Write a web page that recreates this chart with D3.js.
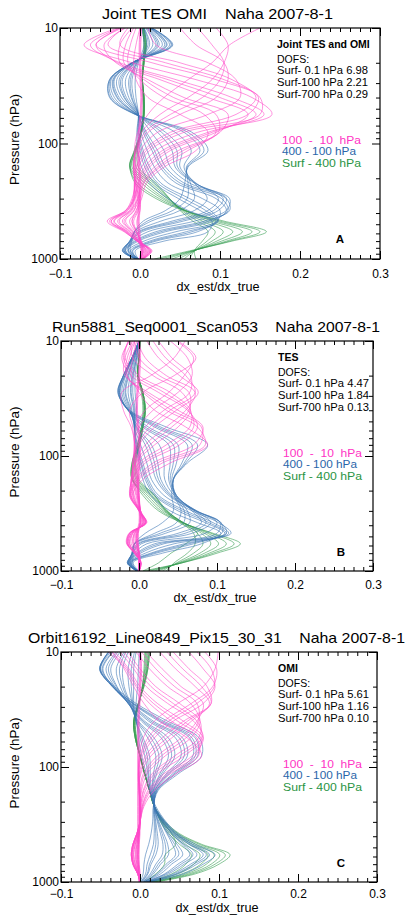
<!DOCTYPE html>
<html>
<head>
<meta charset="utf-8">
<script src="https://cdn.jsdelivr.net/npm/d3@7"></script>
<style>
  body { margin: 0; background: #fff; }
  svg text { font-family: "Liberation Sans", Arial, sans-serif; white-space: pre; }
</style>
</head>
<body>
<svg id="viz"></svg>
<script>
var width = 408;
var height = 915;

// pressure levels (hPa) where every curve is sampled, surface to top
var levels = [1000, 850, 700, 580, 470, 380, 300, 220, 160, 115, 80, 56, 40, 28, 20, 14, 10];

// curve values, units of 0.001 dx_est/dx_true, one row per curve (same order as levels)

// Panel A - Joint TES OMI
var greenA = [
  [18, 62, 115, 158, 105, 55, 20, -6, -12, -5, 2, 5, 5, 3, 5, 8, 5],
  [25, 65, 112, 150, 100, 56, 24, -3, -13, -6, 2, 5, 5, 3, 5, 8, 5],
  [32, 66, 108, 140, 95, 57, 28, 2, -13, -7, 1, 5, 5, 3, 5, 7, 4],
  [40, 67, 102, 128, 90, 57, 31, 6, -12, -7, 1, 5, 5, 3, 5, 7, 4],
  [48, 68, 96, 116, 84, 56, 34, 10, -10, -6, 1, 5, 5, 3, 4, 6, 4],
  [55, 68, 90, 104, 78, 54, 36, 14, -8, -5, 1, 4, 4, 3, 4, 6, 3],
  [62, 68, 84, 94, 72, 52, 37, 17, -5, -4, 1, 4, 4, 3, 4, 5, 3],
  [70, 68, 78, 85, 66, 50, 37, 20, -2, -3, 1, 4, 4, 3, 4, 5, 3]
];
var blueA = [
  [-2, -6, 30, 85, 90, 60, 35, 12, 2, -3, -4, -2, -5, -6, -2, 5, 2],
  [-3, -9, 20, 72, 95, 75, 48, 18, 6, 0, -3, -2, -8, -10, -3, 8, 4],
  [-3, -10, 16, 65, 97, 82, 55, 22, 9, 2, -2, -2, -10, -12, -4, 10, 5],
  [-4, -12, 12, 58, 98, 88, 62, 26, 12, 4, -1, -2, -11, -14, -4, 12, 5],
  [-4, -15, 5, 45, 96, 100, 78, 35, 18, 9, 1, -2, -14, -18, -5, 16, 7],
  [-5, -18, -2, 32, 90, 108, 95, 45, 25, 15, 4, -2, -17, -22, -6, 20, 8],
  [-5, -19, -5, 26, 85, 110, 102, 50, 28, 18, 6, -3, -19, -24, -7, 22, 9],
  [-5, -20, -7, 20, 80, 112, 108, 55, 32, 22, 8, -3, -20, -26, -7, 24, 10],
  [-5, -22, -10, 10, 68, 108, 112, 62, 38, 30, 14, -3, -23, -29, -8, 28, 11],
  [-4, -22, -12, 3, 54, 98, 108, 68, 44, 40, 22, -4, -26, -32, -9, 31, 12],
  [-4, -21, -12, 0, 47, 92, 104, 69, 47, 46, 27, -4, -28, -33, -9, 33, 13],
  [-4, -20, -13, -2, 40, 85, 98, 70, 50, 52, 32, -4, -29, -34, -9, 34, 13],
  [-3, -18, -13, -5, 26, 68, 84, 68, 55, 64, 44, -5, -32, -36, -10, 37, 14],
  [-2, -15, -12, -7, 14, 50, 68, 63, 58, 75, 55, -5, -35, -37, -10, 39, 15],
  [-2, -14, -11, -7, 9, 41, 59, 60, 59, 80, 60, -6, -37, -38, -10, 40, 15],
  [-1, -12, -10, -7, 4, 32, 50, 56, 60, 85, 65, -6, -38, -38, -10, 41, 15]
];
var pinkA = [
  [0, 4, 0, -4, -10, -5, 2, 8, 30, 70, 85, 50, 10, -5, -8, -5, 0],
  [0, 6, -2, -8, -18, -8, 0, 5, 25, 60, 95, 80, 30, 0, -15, -12, -5],
  [1, 8, -3, -10, -22, -10, -2, 4, 22, 54, 98, 95, 42, 5, -20, -18, -8],
  [2, 9, -3, -12, -26, -12, -3, 2, 18, 48, 100, 110, 55, 10, -25, -25, -10],
  [3, 12, -4, -16, -33, -16, -6, 0, 12, 38, 95, 135, 85, 25, -30, -45, -18],
  [3, 13, -4, -18, -36, -17, -7, -2, 9, 33, 90, 145, 100, 35, -28, -55, -22],
  [4, 14, -4, -19, -38, -18, -8, -3, 6, 28, 85, 155, 115, 45, -25, -62, -25],
  [4, 15, -3, -20, -41, -18, -10, -5, 2, 20, 72, 165, 140, 70, -10, -70, -28],
  [3, 13, -2, -17, -36, -15, -9, -6, -2, 12, 55, 150, 150, 95, 15, -55, -25],
  [2, 11, -1, -15, -32, -13, -8, -7, -4, 8, 46, 135, 148, 105, 32, -40, -20],
  [2, 10, 0, -13, -28, -11, -7, -7, -5, 5, 38, 120, 145, 115, 50, -25, -15],
  [1, 7, 1, -9, -20, -7, -5, -7, -7, 0, 22, 85, 125, 120, 85, 20, 10],
  [0, 5, 2, -6, -13, -4, -3, -6, -8, -4, 10, 50, 95, 110, 105, 70, 50],
  [0, 4, 1, -5, -10, -3, -2, -5, -8, -5, 6, 38, 78, 100, 105, 90, 72],
  [0, 3, 1, -4, -8, -2, -1, -4, -8, -6, 2, 25, 60, 90, 105, 110, 95],
  [0, 2, 0, -2, -4, 0, 0, -2, -6, -7, -3, 10, 30, 60, 90, 112, 150],
  [0, 2, 0, -1, -2, -1, 0, 0, -1, -2, -1, 1, 2, 1, 0, 0, 1],
  [-1, 1, -1, -2, -3, -2, -1, -1, -2, -3, -2, 0, 1, 0, -1, -1, 0],
  [1, 3, 1, 0, -1, 0, 1, 1, 0, -1, 0, 2, 3, 2, 1, 1, 2]
];

// Panel B - TES
var greenB = [
  [5, 55, 100, 130, 95, 55, 25, 5, -8, -8, -2, 3, 5, 3, -2, 0, 2],
  [10, 55, 95, 122, 92, 56, 28, 8, -9, -9, -2, 3, 6, 4, -2, 0, 2],
  [15, 54, 90, 112, 88, 57, 31, 11, -9, -9, -1, 4, 7, 4, -2, 0, 2],
  [20, 52, 84, 102, 84, 57, 33, 14, -8, -8, -1, 4, 7, 5, -1, 0, 2],
  [25, 50, 78, 92, 80, 57, 35, 16, -6, -7, 0, 5, 8, 5, -1, 0, 2],
  [30, 48, 70, 82, 75, 56, 36, 18, -4, -6, 0, 5, 8, 5, -1, 0, 1],
  [35, 45, 62, 72, 70, 54, 36, 20, -2, -5, 1, 5, 8, 5, -1, 0, 1],
  [5, 25, 41, 60, 75, 52, 34, 20, 0, -4, 1, 5, 8, 5, -1, 0, 1]
];
var blueB = [
  [-2, -8, 30, 80, 105, 75, 40, 15, 5, 0, -5, -5, -3, -5, -5, -2, 0],
  [-2, -10, 22, 70, 110, 85, 50, 20, 8, 2, -4, -6, -5, -8, -7, -3, 0],
  [-2, -11, 18, 64, 112, 90, 55, 22, 10, 3, -3, -6, -6, -10, -8, -3, 0],
  [-3, -12, 15, 58, 115, 95, 60, 25, 12, 5, -2, -6, -7, -11, -9, -4, 0],
  [-3, -13, 8, 45, 118, 102, 68, 32, 16, 10, 2, -6, -9, -14, -11, -5, 0],
  [-3, -14, 2, 32, 112, 105, 72, 38, 22, 16, 8, -5, -10, -17, -13, -6, 0],
  [-3, -14, -1, 26, 106, 105, 73, 40, 25, 20, 12, -4, -11, -18, -14, -6, 0],
  [-3, -15, -3, 20, 100, 104, 74, 42, 28, 24, 16, -3, -12, -20, -15, -7, 0],
  [-3, -15, -6, 10, 85, 100, 74, 45, 33, 32, 26, 0, -13, -22, -17, -8, 0],
  [-2, -14, -8, 3, 68, 92, 72, 47, 38, 40, 38, 5, -14, -24, -18, -8, 0],
  [-2, -14, -8, 0, 59, 86, 70, 48, 40, 44, 44, 8, -14, -25, -18, -8, 0],
  [-2, -13, -9, -2, 50, 80, 68, 48, 42, 48, 50, 12, -14, -25, -19, -9, 0],
  [-1, -12, -9, -5, 34, 65, 62, 47, 44, 55, 62, 20, -14, -26, -20, -9, 0],
  [-1, -11, -9, -6, 27, 57, 58, 46, 44, 58, 68, 24, -14, -26, -20, -9, 0],
  [-1, -10, -8, -6, 20, 48, 54, 45, 44, 60, 75, 28, -13, -27, -20, -9, 0],
  [0, -8, -7, -6, 8, 30, 44, 42, 44, 62, 88, 35, -12, -27, -20, -9, 0]
];
var pinkB = [
  [0, 2, -5, -12, -8, 6, 2, -8, 5, 40, 88, 60, 20, 0, -10, -8, -3],
  [0, 2, -6, -14, -10, 8, 2, -10, 0, 30, 85, 75, 35, 5, -15, -12, -5],
  [0, 2, -6, -14, -11, 8, 1, -11, -2, 24, 78, 80, 42, 8, -16, -15, -6],
  [0, 3, -6, -15, -12, 9, 1, -12, -4, 18, 70, 82, 50, 12, -18, -18, -8],
  [0, 3, -5, -16, -13, 10, 0, -12, -8, 8, 52, 75, 62, 25, -10, -22, -12],
  [0, 2, -4, -15, -12, 9, 0, -11, -9, 4, 44, 70, 64, 32, -5, -20, -13],
  [0, 2, -4, -15, -12, 9, 0, -10, -10, 0, 35, 65, 66, 40, 0, -18, -14],
  [0, 2, -3, -13, -10, 8, 0, -8, -10, -4, 20, 50, 66, 55, 18, -8, -10],
  [0, 1, -3, -12, -9, 7, 0, -7, -10, -5, 14, 42, 64, 64, 26, 0, -6],
  [0, 1, -2, -10, -8, 6, 1, -6, -9, -6, 8, 35, 60, 72, 35, 8, -2],
  [0, 1, -1, -8, -6, 5, 1, -4, -8, -8, 0, 20, 48, 76, 52, 25, 10],
  [0, 1, 0, -7, -6, 5, 2, -3, -7, -8, -2, 14, 40, 72, 60, 34, 18],
  [0, 0, 0, -6, -5, 4, 2, -2, -6, -8, -4, 8, 32, 65, 66, 42, 25],
  [0, 0, 0, -4, -4, 3, 2, -1, -4, -6, -6, 0, 18, 50, 68, 62, 40],
  [0, 0, 0, -3, -3, 2, 1, 0, -3, -5, -6, -4, 8, 38, 58, 70, 48],
  [0, 0, 0, -2, -2, 2, 1, 0, -2, -4, -6, -8, -12, 5, 45, 73, 50],
  [0, 0, 0, -1, -1, 1, 1, 0, -1, -2, -5, -10, -20, -22, 15, 45, 59],
  [0, 1, 0, -2, -2, 1, 1, -1, -1, 0, 1, -1, -3, -2, 0, 1, 0],
  [-1, 0, -1, -3, -3, 0, 0, -2, -2, -1, 0, -2, -4, -3, -1, 0, -1],
  [1, 2, 1, -1, -1, 2, 2, 0, 0, 1, 2, 0, -2, -1, 1, 2, 1]
];

// Panel C - OMI
var greenC = [
  [20, 70, 100, 114, 78, 50, 32, 18, 12, 6, 0, -6, -8, -2, 5, 10, 12],
  [18, 66, 95, 108, 75, 48, 31, 18, 12, 6, 0, -6, -8, -2, 5, 10, 12],
  [16, 62, 90, 101, 71, 46, 30, 18, 12, 6, 0, -6, -8, -2, 4, 9, 11],
  [14, 58, 84, 94, 67, 44, 29, 18, 12, 6, 0, -6, -8, -2, 4, 9, 10],
  [12, 53, 77, 86, 62, 42, 28, 18, 12, 6, 0, -5, -7, -2, 4, 8, 9],
  [10, 47, 68, 76, 56, 39, 27, 18, 12, 6, 0, -5, -7, -1, 3, 7, 8],
  [8, 40, 58, 65, 50, 36, 26, 18, 12, 6, 0, -5, -6, -1, 3, 6, 7],
  [5, 20, 31, 32, 45, 40, 28, 18, 12, 6, 0, -4, -6, -1, 3, 5, 6]
];
var blueC = [
  [12, 55, 80, 95, 70, 48, 33, 20, 12, 8, 2, -2, -4, -5, -3, -2, -1],
  [10, 48, 72, 88, 66, 46, 32, 19, 13, 10, 6, 0, -5, -8, -8, -8, -5],
  [9, 45, 68, 84, 64, 45, 31, 18, 13, 11, 9, 2, -5, -9, -11, -11, -7],
  [9, 42, 64, 80, 62, 44, 31, 18, 14, 13, 12, 4, -5, -10, -14, -15, -10],
  [8, 36, 56, 72, 58, 42, 30, 18, 15, 17, 20, 10, -4, -12, -20, -22, -15],
  [7, 33, 52, 67, 55, 41, 29, 18, 15, 19, 24, 14, -3, -13, -22, -26, -18],
  [7, 31, 48, 63, 53, 40, 29, 18, 16, 21, 28, 18, -2, -14, -25, -30, -20],
  [6, 26, 40, 54, 47, 37, 28, 18, 17, 25, 36, 27, 2, -15, -29, -37, -25],
  [5, 23, 36, 49, 44, 35, 27, 18, 17, 27, 40, 31, 4, -15, -30, -40, -28],
  [5, 21, 33, 45, 41, 34, 26, 18, 18, 29, 44, 36, 6, -15, -32, -43, -30],
  [4, 17, 26, 36, 35, 30, 24, 18, 19, 33, 52, 45, 11, -14, -34, -47, -34],
  [3, 15, 23, 32, 32, 28, 23, 18, 19, 35, 56, 50, 14, -13, -34, -48, -35],
  [3, 13, 20, 28, 29, 26, 22, 18, 20, 37, 60, 54, 17, -12, -35, -50, -37],
  [2, 10, 14, 20, 23, 22, 20, 18, 21, 41, 67, 63, 24, -10, -35, -51, -39],
  [1, 9, 12, 17, 20, 20, 19, 18, 21, 43, 70, 66, 27, -9, -34, -51, -39],
  [1, 7, 9, 13, 17, 18, 18, 17, 22, 45, 73, 70, 30, -8, -34, -51, -40],
  [0, 4, 5, 7, 11, 14, 16, 17, 23, 48, 78, 75, 35, -5, -32, -50, -40]
];
var pinkC = [
  [0, -3, -8, -10, -8, -4, 0, 5, 18, 45, 78, 60, 25, 5, -8, -20, -35],
  [0, -3, -9, -11, -9, -4, 0, 4, 14, 38, 74, 72, 40, 12, -5, -18, -40],
  [0, -3, -9, -11, -9, -4, 0, 3, 12, 34, 70, 77, 48, 17, -3, -16, -36],
  [0, -3, -9, -11, -9, -4, 0, 3, 10, 30, 66, 80, 55, 22, 0, -14, -32],
  [0, -3, -9, -11, -9, -4, 0, 2, 7, 22, 56, 80, 68, 35, 8, -8, -25],
  [0, -2, -8, -10, -8, -3, 0, 1, 5, 18, 50, 78, 72, 42, 14, -4, -20],
  [0, -2, -8, -10, -8, -3, 0, 1, 4, 15, 44, 74, 76, 50, 20, 0, -15],
  [0, -2, -7, -9, -7, -3, 0, 0, 2, 9, 32, 64, 76, 64, 35, 12, -5],
  [0, -2, -6, -8, -6, -2, 0, 0, 1, 6, 27, 58, 74, 72, 44, 20, 2],
  [0, -2, -6, -8, -6, -2, 0, 0, 0, 4, 22, 52, 72, 80, 52, 28, 8],
  [0, -2, -5, -6, -5, -2, 0, 0, -1, 1, 14, 40, 65, 88, 70, 45, 25],
  [0, -1, -4, -5, -4, -1, 0, 0, -1, 0, 10, 34, 60, 90, 78, 54, 34],
  [0, -1, -4, -5, -4, -1, 0, 0, -1, -1, 7, 28, 55, 90, 85, 62, 42],
  [0, -1, -3, -4, -3, -1, 0, 0, -1, -2, 3, 18, 42, 80, 95, 80, 62],
  [0, -1, -2, -3, -2, -1, 0, 0, -1, -2, 1, 14, 36, 72, 94, 90, 72],
  [0, -1, -2, -3, -2, -1, 0, 0, 0, -2, 0, 10, 30, 65, 92, 97, 82],
  [0, 0, -1, -2, -1, 0, 0, 0, 0, -1, -1, 4, 18, 48, 80, 95, 99],
  [-1, -1, -2, -2, -2, -2, -2, -2, -2, -2, -2, -2, -2, -1, 0, 1, 0],
  [-2, -2, -3, -3, -3, -3, -3, -3, -3, -3, -3, -3, -3, -2, -1, 0, -1],
  [0, 0, -1, -1, -1, -1, -1, -1, -1, -1, -1, -1, -1, 0, 1, 2, 1]
];

// texts
var titles = ["Joint TES OMI    Naha 2007-8-1",
              "Run5881_Seq0001_Scan053    Naha 2007-8-1",
              "Orbit16192_Line0849_Pix15_30_31    Naha 2007-8-1"];
var boxNames = ["Joint TES and OMI", "TES", "OMI"];
var dofsRanges = ["Surf- 0.1 hPa", "Surf-100 hPa", "Surf-700 hPa"];
var dofsA = [6.98, 2.21, 0.29];
var dofsB = [4.47, 1.84, 0.13];
var dofsC = [5.61, 1.16, 0.10];
var letters = ["A", "B", "C"];
var legendLabels = ["100  -  10  hPa", "400 - 100 hPa", "Surf - 400 hPa"];
var legendWidths = [79, 74, 79];
var xTicks = [-0.1, 0.0, 0.1, 0.2, 0.3];
var yTicks = [10, 100, 1000];

// drawing order green, blue, pink
var panelCurves = [[greenA, blueA, pinkA], [greenB, blueB, pinkB], [greenC, blueC, pinkC]];
var panelDofs = [dofsA, dofsB, dofsC];
var lineColors = ["#339c4e", "#3a74b4", "#ff48c9"];
var textColors = ["#ff33c4", "#2a66aa", "#2a9444"]; // legend order pink, blue, green

// plot frames, title extents, x-label baseline
var frames = [
  {left: 60, right: 380, top: 28, bottom: 259, titleX: 217.5, titleW: 231, xLabelY: 291, pad: 10},
  {left: 61, right: 373, top: 341, bottom: 571, titleX: 216, titleW: 328, xLabelY: 602, pad: 9},
  {left: 61, right: 377, top: 652, bottom: 882, titleX: 216.5, titleW: 377, xLabelY: 911.5, pad: 7.5}
];

var svg = d3.select("#viz")
  .attr("width", width)
  .attr("height", height);

svg.append("rect")
  .attr("width", width)
  .attr("height", height)
  .attr("fill", "#fff");

var fontFamily = '"Liberation Sans", Arial, sans-serif';

function drawPanel(p) {
  var f = frames[p];
  var g = svg.append("g");

  var x = d3.scaleLinear().domain([-0.1, 0.3]).range([f.left, f.right]);
  var y = d3.scaleLog().domain([1000, 10]).range([f.bottom, f.top]);

  g.append("clipPath")
    .attr("id", "clip" + p)
    .append("rect")
    .attr("x", f.left)
    .attr("y", f.top)
    .attr("width", f.right - f.left)
    .attr("height", f.bottom - f.top);

  var line = d3.line()
    .x(function(d) { return x(d / 1000); })
    .y(function(d, i) { return y(levels[i]); })
    .curve(d3.curveCatmullRom.alpha(0.5));

  // curves
  var curves = g.append("g").attr("clip-path", "url(#clip" + p + ")");
  panelCurves[p].forEach(function(group, gi) {
    curves.append("g")
      .selectAll("path")
      .data(group)
      .enter().append("path")
      .attr("d", line)
      .attr("fill", "none")
      .attr("stroke", lineColors[gi])
      .attr("stroke-width", 0.65)
      .attr("stroke-opacity", 0.9);
  });

  // x axes (ticks inside)
  var minorX = d3.range(-8, 25).filter(function(i) { return i % 8 !== 0; })
    .map(function(i) { return i * 0.0125; });
  var minorY = [20, 30, 40, 50, 60, 70, 80, 90, 200, 300, 400, 500, 600, 700, 800, 900];

  var xBottom = g.append("g")
    .attr("transform", "translate(0," + f.bottom + ")")
    .call(d3.axisBottom(x).tickValues(xTicks).tickSize(-8).tickSizeOuter(0)
      .tickPadding(f.pad).tickFormat(d3.format(".1f")));
  g.append("g")
    .attr("transform", "translate(0," + f.bottom + ")")
    .call(d3.axisBottom(x).tickValues(minorX).tickSize(-4).tickSizeOuter(0).tickFormat(""));
  g.append("g")
    .attr("transform", "translate(0," + f.top + ")")
    .call(d3.axisTop(x).tickValues(xTicks).tickSize(-8).tickSizeOuter(0).tickFormat(""));
  g.append("g")
    .attr("transform", "translate(0," + f.top + ")")
    .call(d3.axisTop(x).tickValues(minorX).tickSize(-4).tickSizeOuter(0).tickFormat(""));

  // y axes
  var yLeft = g.append("g")
    .attr("transform", "translate(" + f.left + ",0)")
    .call(d3.axisLeft(y).tickValues(yTicks).tickSize(-8).tickSizeOuter(0)
      .tickPadding(2).tickFormat(d3.format("d")));
  g.append("g")
    .attr("transform", "translate(" + f.left + ",0)")
    .call(d3.axisLeft(y).tickValues(minorY).tickSize(-4).tickSizeOuter(0).tickFormat(""));
  g.append("g")
    .attr("transform", "translate(" + f.right + ",0)")
    .call(d3.axisRight(y).tickValues(yTicks).tickSize(-8).tickSizeOuter(0).tickFormat(""));
  g.append("g")
    .attr("transform", "translate(" + f.right + ",0)")
    .call(d3.axisRight(y).tickValues(minorY).tickSize(-4).tickSizeOuter(0).tickFormat(""));

  g.selectAll(".domain").remove();
  g.selectAll(".tick line").attr("stroke", "#000").attr("stroke-width", 1);
  xBottom.selectAll("text").attr("font-size", 12).attr("font-family", fontFamily).attr("fill", "#000");
  yLeft.selectAll("text").attr("font-size", 12).attr("font-family", fontFamily).attr("fill", "#000");

  // frame
  g.append("rect")
    .attr("x", f.left)
    .attr("y", f.top)
    .attr("width", f.right - f.left)
    .attr("height", f.bottom - f.top)
    .attr("fill", "none")
    .attr("stroke", "#000")
    .attr("stroke-width", 1.2);

  // title and axis labels
  g.append("text")
    .attr("x", f.titleX)
    .attr("y", f.top - 9)
    .attr("text-anchor", "middle")
    .attr("xml:space", "preserve")
    .attr("font-size", 14.5)
    .attr("textLength", f.titleW)
    .attr("lengthAdjust", "spacingAndGlyphs")
    .text(titles[p]);

  g.append("text")
    .attr("x", (f.left + f.right) / 2 - 2)
    .attr("y", f.xLabelY)
    .attr("text-anchor", "middle")
    .attr("font-size", 12)
    .attr("textLength", 83)
    .attr("lengthAdjust", "spacingAndGlyphs")
    .text("dx_est/dx_true");

  g.append("text")
    .attr("transform", "translate(19," + ((f.top + f.bottom) / 2 - 4) + ") rotate(-90)")
    .attr("text-anchor", "middle")
    .attr("font-size", 13.5)
    .text("Pressure (hPa)");

  // DOFS box
  var tx = f.left + 217;
  g.append("text")
    .attr("x", tx).attr("y", f.top + 20)
    .attr("font-size", 10.5).attr("font-weight", "bold")
    .text(boxNames[p]);
  g.append("text")
    .attr("x", tx).attr("y", f.top + 35)
    .attr("font-size", 10.5)
    .text("DOFS:");
  g.selectAll(".dofs")
    .data(dofsRanges)
    .enter().append("text")
    .attr("x", tx)
    .attr("y", function(d, i) { return f.top + 46 + i * 12; })
    .attr("font-size", 10.5)
    .attr("textLength", 91)
    .attr("lengthAdjust", "spacingAndGlyphs")
    .text(function(d, i) { return d + " " + panelDofs[p][i].toFixed(2); });

  // legend
  g.selectAll(".legend")
    .data(legendLabels)
    .enter().append("text")
    .attr("x", f.left + 222)
    .attr("y", function(d, i) { return f.top + 116 + i * 11.3; })
    .attr("xml:space", "preserve")
    .attr("font-size", 10.5)
    .attr("textLength", function(d, i) { return legendWidths[i]; })
    .attr("lengthAdjust", "spacingAndGlyphs")
    .attr("fill", function(d, i) { return textColors[i]; })
    .text(function(d) { return d; });

  g.append("text")
    .attr("x", f.left + 280)
    .attr("y", f.top + 215)
    .attr("text-anchor", "middle")
    .attr("font-size", 11.5)
    .attr("font-weight", "bold")
    .text(letters[p]);
}

for (var p = 0; p < 3; p++) {
  drawPanel(p);
}
</script>
</body>
</html>
